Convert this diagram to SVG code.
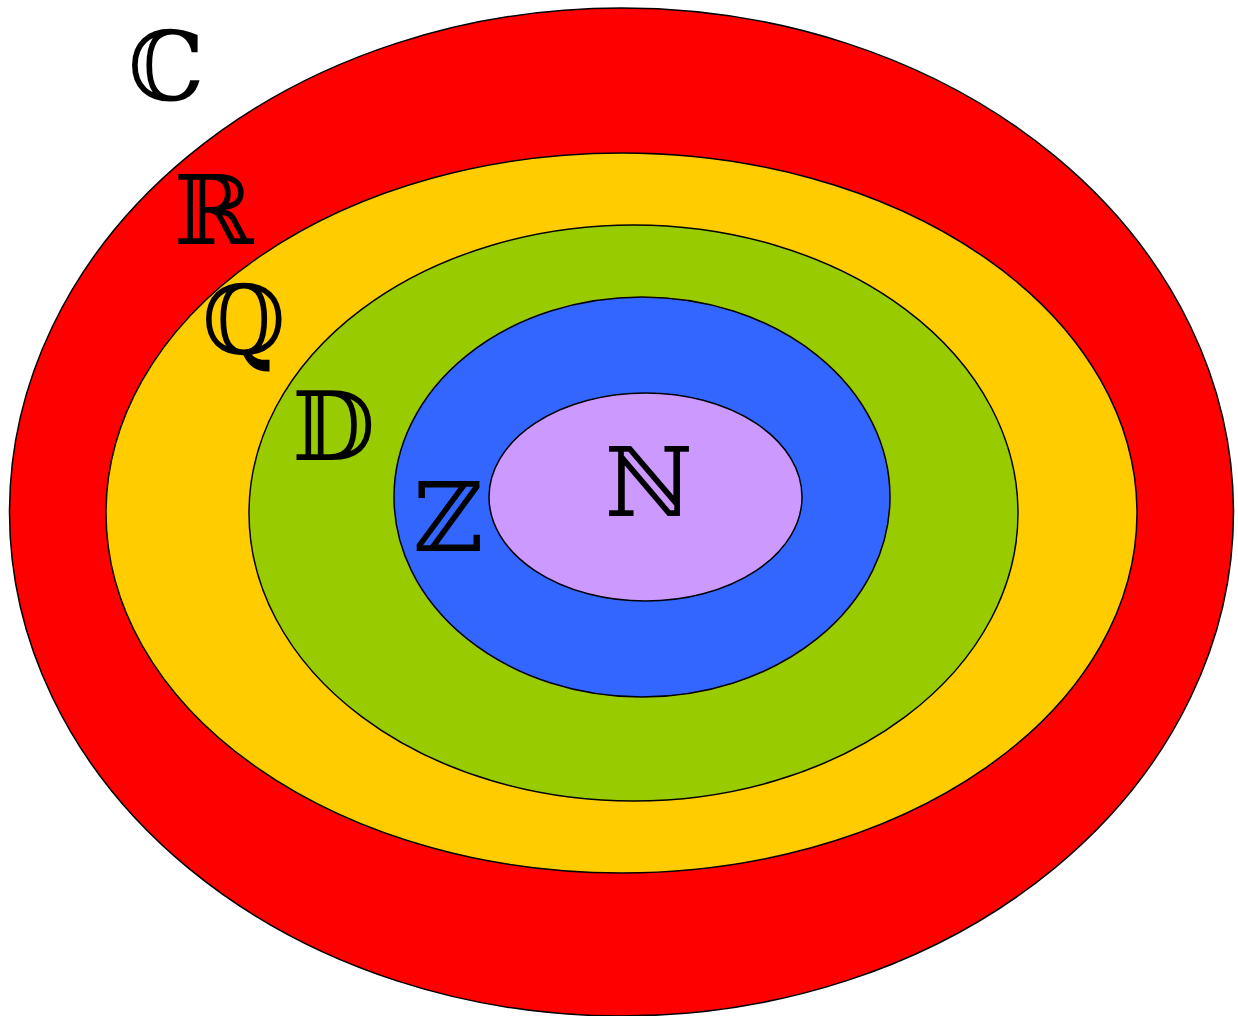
<svg xmlns="http://www.w3.org/2000/svg" width="1238" height="1016" viewBox="0 0 1238 1016">
<style>
.e{stroke:#000;stroke-width:1.5}
.t{font-family:"DejaVu Serif","DejaVu Sans","Noto Sans",serif;font-size:96px;fill:#000}
</style>
<rect width="1238" height="1016" fill="#fff"/>
<g id="C"><ellipse class="e" cx="621.5" cy="512" rx="612" ry="504" fill="#ff0000"/><text class="t" x="128" y="100">ℂ</text></g>
<g id="R"><ellipse class="e" cx="621.5" cy="513" rx="515.5" ry="360" fill="#ffcc00"/><text class="t" x="174" y="244">ℝ</text></g>
<g id="Q"><ellipse class="e" cx="633.5" cy="513" rx="384.5" ry="288" fill="#99cc00"/><text class="t" x="202" y="354">ℚ</text></g>
<g id="D"><ellipse class="e" cx="642" cy="497" rx="248" ry="200" fill="#3366ff"/><text class="t" x="292" y="460">𝔻</text></g>
<g id="Z"><ellipse class="e" cx="645.5" cy="497" rx="156.5" ry="104" fill="#cc99ff"/><text class="t" x="413" y="551">ℤ</text></g>
<g id="N"><text class="t" x="605" y="516">ℕ</text></g>
<g id="connectors"/>
</svg>
